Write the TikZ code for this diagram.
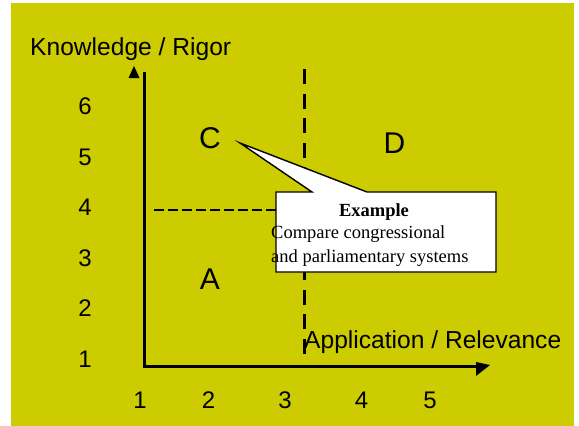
\documentclass[tikz,border=0pt]{standalone}
\usepackage{fontspec}
\setmainfont{Liberation Sans}
\newfontfamily\timesfont{Liberation Serif}
\definecolor{chartolive}{RGB}{204,204,0}
\tikzset{axis/.style={line width=3pt},
  tip/.style={fill=black},
  axislabel/.style={inner sep=0pt,font=\fontsize{24.6}{29}\selectfont},
  tick/.style={inner sep=0pt,anchor=base,font=\fontsize{24}{28}\selectfont},
  quadrant/.style={inner sep=0pt,anchor=base,font=\fontsize{30}{34}\selectfont},
  divider/.style={line width=3pt,dash pattern=on 15pt off 9.5pt},
  levelline/.style={line width=1.8pt,dash pattern=on 9.5pt off 4.5pt},
  callout/.style={fill=white,draw=black,line width=1.4pt,line join=miter},
  boxtext/.style={inner sep=0pt,font=\timesfont\fontsize{18.5}{24}\selectfont}}

\begin{document}
\begin{tikzpicture}[x=1pt,y=-1pt]
  \path[use as bounding box] (0,0) rectangle (579,426);
  \fill[chartolive] (11,3) rectangle (574,426);
  % axes
  \coordinate (origin) at (144.5,366);
  \coordinate (ytop) at (144.5,72);
  \coordinate (xend) at (478,366);
  \draw[axis] (ytop) |- (xend);
  \fill[tip] (134,66) -- (139.5,78) -- (128.5,78) -- cycle;
  \fill[tip] (476,362) -- (490,365) -- (476,376) -- cycle;
  \node[axislabel,anchor=base west] (ylabel) at (30,55) {Knowledge / Rigor};
  \node[axislabel,anchor=base west] (xlabel) at (304,348) {Application / Relevance};
  % tick numbers
  \foreach \k in {1,...,6}
    \node[tick] (y\k) at (85,{367-50.5*(\k-1)}) {\k};
  \foreach \k/\x in {1/140,2/208.5,3/285,4/361.5,5/430}
    \node[tick] (x\k) at (\x,408) {\k};
  % quadrant dividers
  \coordinate (divtop) at (304,69);
  \coordinate (divbot) at (304,356);
  \draw[divider] (divtop) -- (divbot);
  \coordinate (levelstart) at (154,210);
  \coordinate (levelend) at (277,210);
  \draw[levelline] (levelstart) -- (levelend);
  \node[quadrant] (qC) at (210,148) {C};
  \node[quadrant] (qD) at (394.5,153) {D};
  \node[quadrant] (qA) at (210,289) {A};
  % callout
  \coordinate (pointer) at (240,143);
  \draw[callout] (276,192) -- (312,192) -- (pointer) -- (367,192) -- (496,192)
    -- (496,272) -- (276,272) -- cycle;
  \node[boxtext,anchor=base] (extitle) at (374,216) {\bfseries Example};
  \node[boxtext,anchor=base west] (exline1) at (271,238) {Compare congressional};
  \node[boxtext,anchor=base west] (exline2) at (271,262) {and parliamentary systems};
\end{tikzpicture}
\end{document}
